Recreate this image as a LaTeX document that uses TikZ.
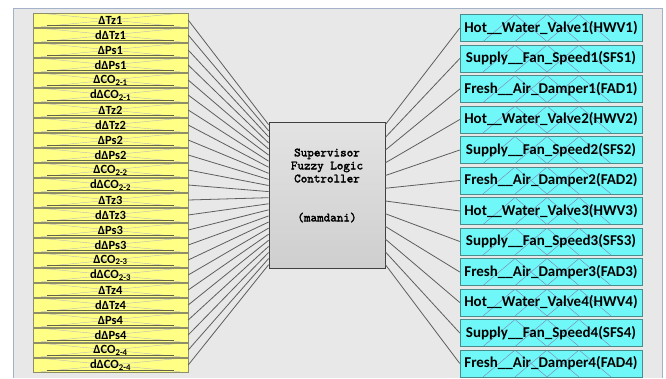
\documentclass[tikz,border=0pt]{standalone}
\usepackage{fontspec}
\setmainfont{Carlito}
\newfontfamily\flcfont{lmmono10-regular.otf}[FakeBold=2.2]
\usetikzlibrary{positioning,calc}

\definecolor{panelgray}{HTML}{E8E8E8}
\definecolor{panelline}{HTML}{A3B2C8}
\definecolor{inyellow}{HTML}{FFFF85}
\definecolor{inedge}{HTML}{8E8E6A}
\definecolor{outcyan}{HTML}{70F7F7}
\definecolor{outedge}{HTML}{4A8C8C}
\definecolor{wiregray}{HTML}{5E5E5E}

\tikzset{
    inbox/.style={draw=inedge, fill=inyellow, minimum width=155pt, minimum height=13.5pt,
        inner sep=0pt, font=\bfseries\fontsize{12.5}{12.5}\selectfont,
        path picture={
            \draw[gray!55] ([xshift=8pt]path picture bounding box.north west)
                -- ([xshift=-8pt]path picture bounding box.south east);
            \draw[gray!55] ([xshift=8pt]path picture bounding box.south west)
                -- ([xshift=-8pt]path picture bounding box.north east);
            \draw[inedge!70!black, line width=0.9pt]
                ([xshift=14pt,yshift=1.2pt]path picture bounding box.south west)
                -- ([xshift=-14pt,yshift=1.2pt]path picture bounding box.south east);
        }},
    outbox/.style={draw=outedge, fill=outcyan, minimum width=182pt, minimum height=27pt,
        inner sep=0pt, font=\bfseries\fontsize{15}{15}\selectfont,
        path picture={
            \foreach \p in {-36,-4,28} {
                \draw[blue!25!gray!80] ([xshift=\p pt-32pt]path picture bounding box.south)
                    -- ([xshift=\p pt]path picture bounding box.north)
                    -- ([xshift=\p pt+32pt]path picture bounding box.south);
            }
        }},
    flcbox/.style={draw=black!75, thick, top color=gray!22, bottom color=gray!38,
        minimum width=116pt, minimum height=146pt, inner sep=0pt},
    wire/.style={wiregray, line width=0.8pt}
}

\begin{document}
\begin{tikzpicture}[x=1pt, y=-1pt]
    \useasboundingbox (0,0) rectangle (666,378);
    \fill[panelgray] (13,8) rectangle (662,378);
    \draw[panelline, thick] (13,378) -- (13,8) -- (662,8) -- (662,378);

    % supervisor in the middle
    \node[flcbox, label={[font=\flcfont\fontsize{12.5}{13}\selectfont, align=center, yshift=9.5pt]center:Supervisor\\Fuzzy Logic\\Controller\\[26pt](mamdani)}] (flc) at (327,195) {};

    % input variables
    \foreach \g in {1,...,4} {
        \foreach \lab [count=\k] in {ΔTz\g, dΔTz\g, ΔPs\g, dΔPs\g, ΔCO\textsubscript{2-\g}, dΔCO\textsubscript{2-\g}} {
            \pgfmathtruncatemacro\i{6*(\g-1)+\k}
            \node[inbox] (in\i) at (110.5,{5+15*\i}) {\lab};
        }
    }

    % output variables
    \foreach \g in {1,...,4} {
        \foreach \lab [count=\k] in {Hot\_\_Water\_Valve\g(HWV\g), Supply\_\_Fan\_Speed\g(SFS\g), Fresh\_\_Air\_Damper\g(FAD\g)} {
            \pgfmathtruncatemacro\j{3*(\g-1)+\k}
            \node[outbox] (out\j) at (551,{-2.5+30.5*\j}) {\lab};
        }
    }

    \foreach \i in {1,...,24} {
        \draw[wire] (in\i.east) -- ([yshift={-(3+6.09*(\i-1))*1pt}]flc.north west);
    }
    \foreach \j in {1,...,12} {
        \draw[wire] ([yshift={-(3+12.73*(\j-1))*1pt}]flc.north east) -- (out\j.west);
    }
\end{tikzpicture}
\end{document}
